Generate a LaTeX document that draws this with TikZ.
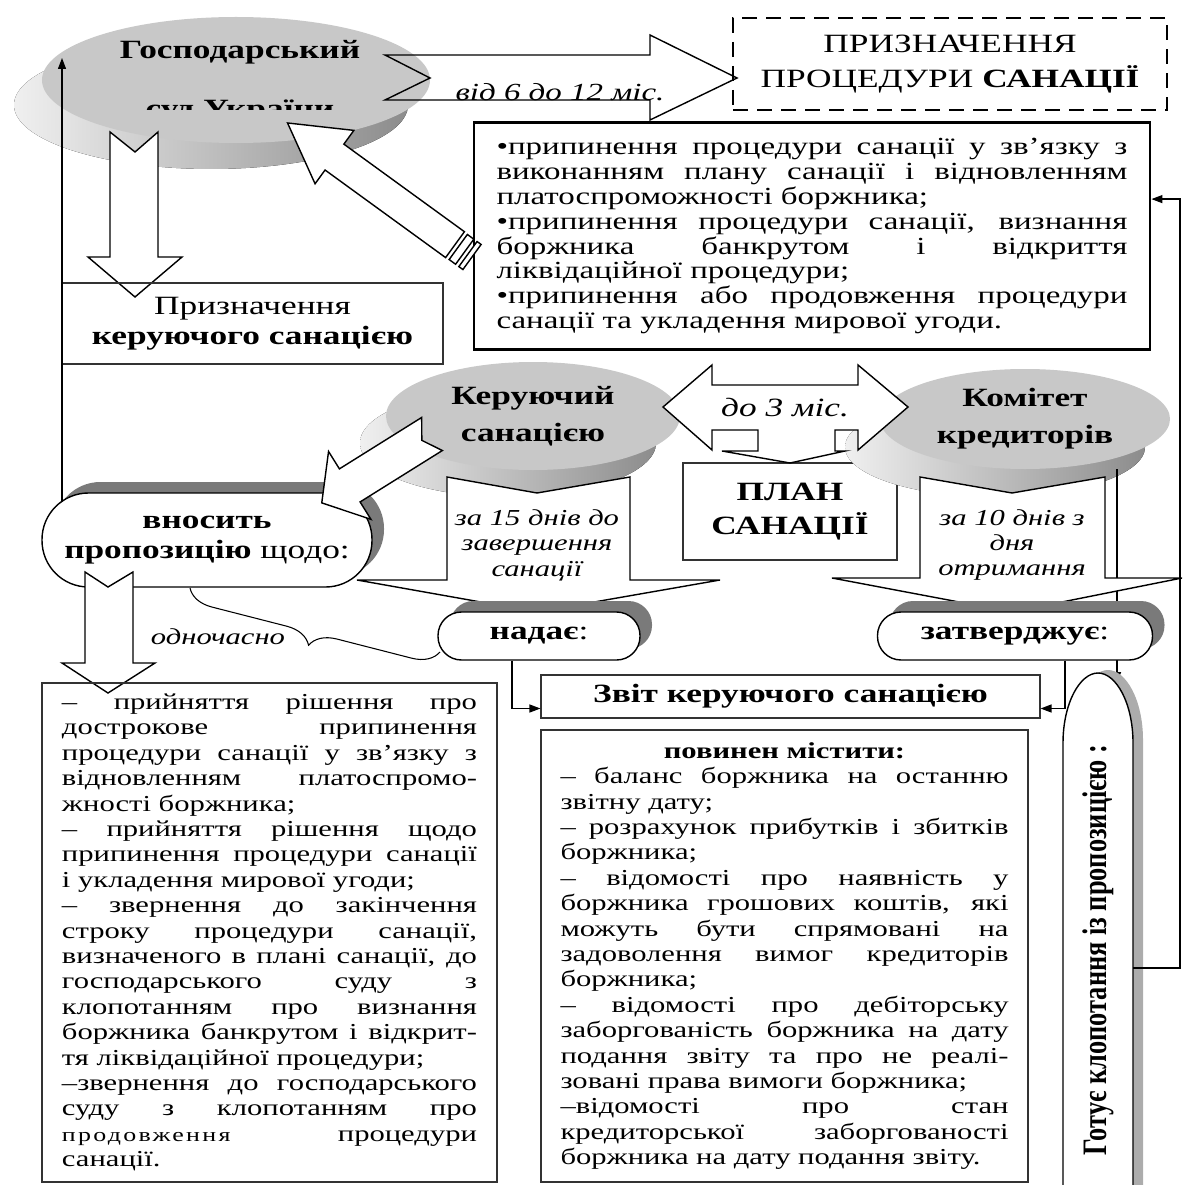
\documentclass[tikz,border=0pt]{standalone}
\usepackage{fontspec}
\usepackage{graphicx}
\setmainfont{Liberation Serif}[FakeStretch=1.34]
\newfontfamily\plainserif{Liberation Serif}
\usetikzlibrary{arrows.meta, positioning, calc, shapes.geometric, shapes.misc, shadows, decorations.pathreplacing}
\definecolor{discface}{HTML}{C8C8C8}
\definecolor{discrim}{HTML}{8C8C8C}
\definecolor{shadowgray}{HTML}{7A7A7A}
\setlength{\parindent}{0pt}
\newlength{\rowwd}
\newcommand{\jline}[1]{\makebox[\rowwd][s]{\spaceskip=0pt\xspaceskip=0pt #1}}
\newcommand{\lline}[1]{\makebox[\rowwd][l]{\spaceskip=0pt\xspaceskip=0pt #1}}

\begin{document}
\begin{tikzpicture}[
  x=0.2mm, y=-0.2mm,
  >={Triangle[length=2.2mm, width=1.6mm]},
  every node/.style={inner sep=0pt, text=black},
  disc/.style={ellipse, fill=discface, inner sep=0pt},
  discshade/.style={left color=gray!12, right color=discrim},
  blockarr/.style={draw, line width=0.8pt, fill=white, line join=miter},
  plainbox/.style={draw=black!80, line width=0.6pt},
  pill/.style={draw, line width=0.8pt, fill=white, drop shadow={shadow xshift=2.4mm, shadow yshift=2.2mm, fill=shadowgray, opacity=1}},
  link/.style={line width=0.7pt, ->},
  headfont/.style={font=\fontsize{15}{21}\selectfont\bfseries},
  termfont/.style={font=\fontsize{14}{16}\selectfont\itshape},
  notefont/.style={font=\fontsize{13}{14.5}\selectfont\itshape},
  itemfont/.style={font=\fontsize{14}{14.2}\selectfont},
  listfont/.style={font=\fontsize{13}{14.45}\selectfont},
]
\useasboundingbox (0,0) rectangle (1187,1184);

% Court disc
\fill[discshade] (211,105) ellipse [x radius=197, y radius=64];
\node[disc, minimum width=77.6mm, minimum height=25.2mm] (court) at (236,80) {};
\node[headfont] (courtname) at (240,52) {Господарський};
\begin{scope}
  \clip (40,20) rectangle (440,110);
  \node[headfont, anchor=base] (courtname2) at (240,118) {суд України};
\end{scope}

% Term arrow to the appointment of the procedure
\draw[blockarr, fill=none] (385,55) -- (650,55) -- (650,35) -- (737,78) -- (650,120) -- (650,100) -- (385,100) -- (430,78) -- cycle;
\node[termfont] (term) at (560,92) {від 6 до 12 міс.};

% Appointment of the procedure
\node[draw, line width=1.3pt, dash pattern=on 3mm off 1.8mm, minimum width=86.8mm, minimum height=18.4mm,
  align=center, font=\fontsize{15}{20}\selectfont] (appoint) at (950,64) {ПРИЗНАЧЕННЯ\\ПРОЦЕДУРИ \textbf{САНАЦІЇ}};

% Ways to end the procedure
\setlength{\rowwd}{126.2mm}
\node[draw, line width=1.6pt, minimum width=135.2mm, minimum height=45.4mm, text width=126.2mm, align=left, itemfont] (ends) at (812,236) {%
  \jline{•припинення процедури санації у зв’язку з}\\
  \jline{виконанням плану санації і відновленням}\\
  \lline{платоспроможності боржника;}\\
  \jline{•припинення процедури санації, визнання}\\
  \jline{боржника банкрутом і відкриття}\\
  \lline{ліквідаційної процедури;}\\
  \jline{•припинення або продовження процедури}\\
  \lline{санації та укладення мирової угоди.}};

% Striped arrow back to the court
\begin{scope}[shift={(472,257)}, rotate=144]
  \draw[blockarr] (0,-15.5) rectangle (5,15.5);
  \draw[blockarr] (9,-15.5) rectangle (17,15.5);
  \draw[blockarr] (21,-16) -- (170,-16) -- (170,-33) -- (228,0) -- (170,33) -- (170,16) -- (21,16) -- cycle;
\end{scope}

% Court down to the appointment of the manager
\draw[blockarr] (110,132) -- (135,152) -- (158,132) -- (158,257) -- (182,257) -- (135,297) -- (88,257) -- (110,257) -- cycle;
\node[plainbox, minimum width=76.2mm, minimum height=16.2mm, align=center, font=\fontsize{15}{17}\selectfont] (appt) at (252.5,323.5) {Призначення\\\textbf{керуючого санацією}};

% Plan
\node[plainbox, minimum width=42.8mm, minimum height=19.4mm, align=center, font=\fontsize{15}{19}\selectfont\bfseries] (plan) at (790,511.5) {ПЛАН\\САНАЦІЇ};

% Manager disc
\fill[discshade] (508,443) ellipse [x radius=148, y radius=54];
\node[disc, minimum width=58.8mm, minimum height=21.6mm, align=center, headfont] (mgr) at (533,416) {Керуючий\\санацією};

% Committee disc
\fill[discshade] (995,447) ellipse [x radius=150, y radius=50];
\node[disc, minimum width=58mm, minimum height=20mm, align=center, headfont] (cmt) at (1025,419) {Комітет\\кредиторів};

% Double arrow with the drop to the plan
\draw[blockarr] (663,407) -- (712,365) -- (712,385) -- (858,385) -- (858,365) -- (908,407) -- (858,450) -- (858,430)
  -- (835,430) -- (835,451) -- (845,451) -- (790,463) -- (722,451) -- (758,451) -- (758,430) -- (712,430) -- (712,450) -- cycle;
\node[font=\fontsize{15}{16}\selectfont\itshape] (span) at (785,408) {до 3 міс.};

% Committee line to the petition
\coordinate (gtop) at (1117,683);
\draw[link] (cmt.south -| gtop) -- (gtop);

% Manager arrow down
\draw[blockarr] (447,477) -- (537,493) -- (630,477) -- (630,580) -- (720,580) -- (537,612) -- (357,580) -- (447,580) -- cycle;
\node[notefont, align=center] (m15) at (537,545) {за 15 днів до\\завершення\\санації};

% Committee arrow down
\draw[blockarr] (920,477) -- (1012,493) -- (1105,477) -- (1105,578) -- (1182,578) -- (1012,612) -- (832,578) -- (920,578) -- cycle;
\node[notefont, align=center] (c10) at (1012,545) {за 10 днів з\\дня\\отримання};

% Gives / approves
\node[pill, rounded corners=4.7mm, minimum width=40.4mm, minimum height=9.6mm, font=\fontsize{15}{16}\selectfont] (nad) at (539,636) {\textbf{надає}:};
\node[pill, rounded corners=4.7mm, minimum width=55mm, minimum height=9.6mm, font=\fontsize{15}{16}\selectfont] (zat) at (1015,636) {\textbf{затверджує}:};

% Proposal callout
\node[pill, rounded corners=9.3mm, minimum width=66mm, minimum height=18.8mm, align=center, font=\fontsize{15}{17}\selectfont] (vnos) at (207,540) {\textbf{вносить}\\\textbf{пропозицію} щодо:};

% Manager to the callout
\begin{scope}[shift={(432,434)}, rotate=212]
  \draw[blockarr] (0,-19.5) -- (12,0) -- (0,19.5) -- (97,19.5) -- (97,40) -- (130,0) -- (97,-40) -- (97,-19.5) -- cycle;
\end{scope}

% Return line to the court
\coordinate (vfoot) at (62,502);
\coordinate (courtin) at (62,58);
\draw[link] (vfoot) -- (courtin);

% Callout down to the list
\draw[blockarr] (85,572) -- (108,587) -- (133,572) -- (133,663) -- (155,663) -- (108,693) -- (62,663) -- (85,663) -- cycle;

% Simultaneously
\draw[decorate, decoration={brace, amplitude=5.2mm}, line width=0.6pt] (440,652) -- (190,588);
\node[notefont] (simul) at (218,637) {одночасно};

% Report
\node[plainbox, minimum width=99.8mm, minimum height=8.6mm, font=\fontsize{15}{16}\selectfont\bfseries] (rep) at (790.5,696.5) {Звіт керуючого санацією};
\draw[link] ($(nad.south)+(-27,0)$) |- ($(rep.west)+(0,12)$);
\draw[link] ($(zat.south)+(50,0)$) |- ($(rep.east)+(0,12)$);

% Proposal list
\setlength{\rowwd}{83mm}
\node[plainbox, minimum width=91mm, minimum height=99.8mm, text width=83mm, align=left, listfont] (prop) at (269.5,932.5) {%
  \jline{– прийняття рішення про}\\
  \jline{дострокове припинення}\\
  \jline{процедури санації у зв’язку з}\\
  \jline{відновленням платоспромо-}\\
  \lline{жності боржника;}\\
  \jline{– прийняття рішення щодо}\\
  \jline{припинення процедури санації}\\
  \lline{і укладення мирової угоди;}\\
  \jline{– звернення до закінчення}\\
  \jline{строку процедури санації,}\\
  \jline{визначеного в плані санації, до}\\
  \jline{господарського суду з}\\
  \jline{клопотанням про визнання}\\
  \jline{боржника банкрутом і відкрит-}\\
  \lline{тя ліквідаційної процедури;}\\
  \jline{–звернення до господарського}\\
  \jline{суду з клопотанням про}\\
  \jline{{\fontsize{11}{14.45}\selectfont\addfontfeatures{LetterSpace=12}продовження} процедури}\\
  \lline{санації.}};

% Report contents
\setlength{\rowwd}{89.6mm}
\node[plainbox, minimum width=97.4mm, minimum height=90.4mm, text width=89.6mm, align=left, listfont] (cont) at (784.5,956) {%
  \makebox[\rowwd][c]{\textbf{повинен містити:}}\\
  \jline{– баланс боржника на останню}\\
  \lline{звітну дату;}\\
  \jline{– розрахунок прибутків і збитків}\\
  \lline{боржника;}\\
  \jline{– відомості про наявність у}\\
  \jline{боржника грошових коштів, які}\\
  \jline{можуть бути спрямовані на}\\
  \jline{задоволення вимог кредиторів}\\
  \lline{боржника;}\\
  \jline{– відомості про дебіторську}\\
  \jline{заборгованість боржника на дату}\\
  \jline{подання звіту та про не реалі-}\\
  \lline{зовані права вимоги боржника;}\\
  \jline{–відомості про стан}\\
  \jline{кредиторської заборгованості}\\
  \lline{боржника на дату подання звіту.}};

% Petition
\fill[gray!65] (1073,1230) -- (1073,740) .. controls (1073,700) and (1090,670) .. (1108,670) .. controls (1126,670) and (1143,700) .. (1143,740) -- (1143,1230) -- cycle;
\draw[fill=white, line width=0.8pt] (1063,1230) -- (1063,743) .. controls (1063,703) and (1080,673) .. (1098,673) .. controls (1116,673) and (1133,703) .. (1133,743) -- (1133,1230);
\node[rotate=90] (gotu) at (1098,950) {\scalebox{1}[1.3]{\plainserif\fontsize{15}{16}\selectfont\bfseries Готує клопотання із пропозицією :}};
\coordinate (gside) at (1133,968);
\draw[link] (gside) -- (1180,968) |- ($(ends.north east)+(0,78)$);

\end{tikzpicture}
\end{document}
